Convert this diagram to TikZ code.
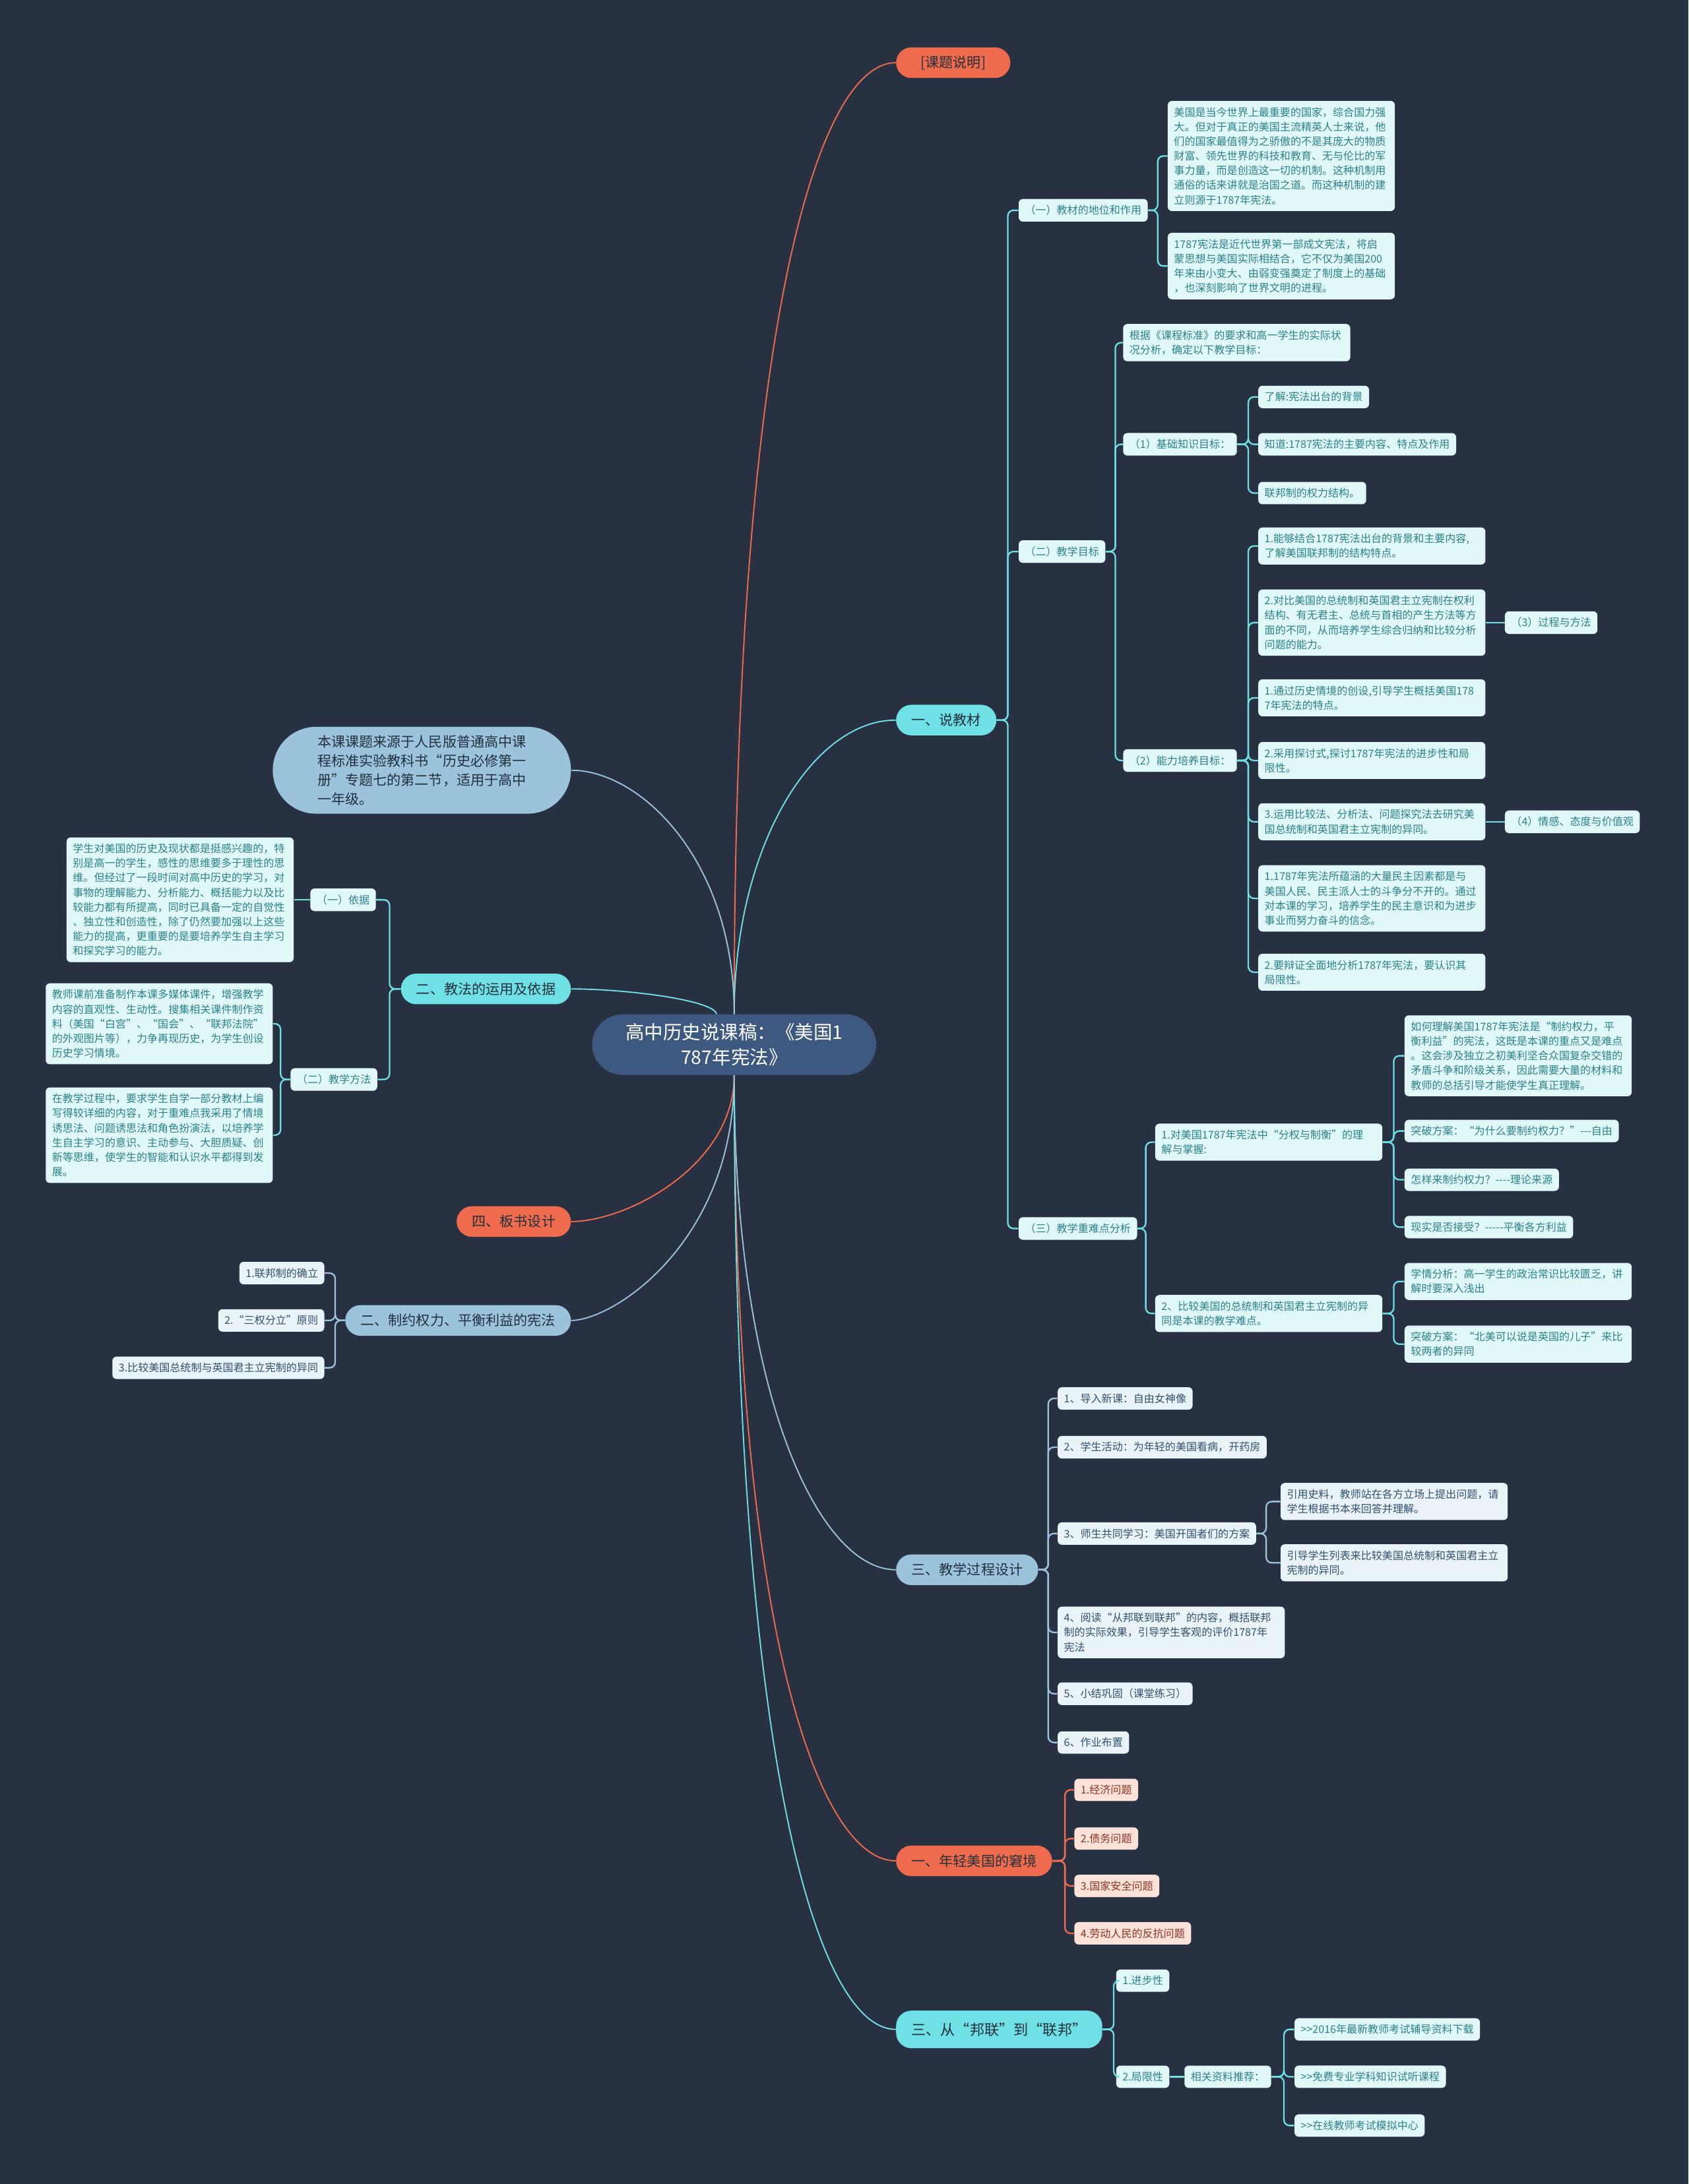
\documentclass[tikz,border=0pt]{standalone}
\usepackage{fontspec}
\setmainfont{Noto Sans CJK SC}[Ligatures=TeXOff]
\usepackage{xcolor}
\usepackage{tikz}
\usetikzlibrary{positioning, calc}

\definecolor{bgc}{HTML}{283142}
\definecolor{rootc}{HTML}{3D5980}
\definecolor{orc}{HTML}{EE6B4D}
\definecolor{cyc}{HTML}{6FE0E6}
\definecolor{lbc}{HTML}{9CC3DC}
\definecolor{cysub}{HTML}{E1F8F9}
\definecolor{lbsub}{HTML}{EAF3F8}
\definecolor{orsub}{HTML}{FDE2D9}
\definecolor{cytxt}{HTML}{2A8189}
\definecolor{lbtxt}{HTML}{33506E}
\definecolor{ortxt}{HTML}{8C3220}
\definecolor{darktxt}{HTML}{22303C}

\begin{document}
\begin{tikzpicture}[x=1pt, y=-1pt,
    rootbox/.style={fill=rootc, text=white, rounded corners=22pt, align=center,
      inner xsep=24pt, inner ysep=6.5pt, font=\fontsize{13.5pt}{18pt}\selectfont},
    mainbox/.style={rounded corners=11pt, minimum height=22pt, inner xsep=11pt,
      text=darktxt, font=\fontsize{10pt}{12pt}\selectfont},
    omain/.style={mainbox, fill=orc},
    cmain/.style={mainbox, fill=cyc},
    bmain/.style={mainbox, fill=lbc},
    subbox/.style={rounded corners=3pt, align=left, inner xsep=4.5pt, inner ysep=4.5pt,
      font=\fontsize{7.6pt}{10.5pt}\selectfont},
    wide/.style={text width=154pt},
    csub/.style={subbox, fill=cysub, text=cytxt},
    bsub/.style={subbox, fill=lbsub, text=lbtxt},
    osub/.style={subbox, fill=orsub, text=ortxt},
    cline/.style={cyc, line width=1.1pt, rounded corners=4pt},
    bline/.style={lbc, line width=1.1pt, rounded corners=4pt},
    oline/.style={orc, line width=1.1pt, rounded corners=4pt},
  ]
  \useasboundingbox (0,0) rectangle (1212,1568);
  \fill[bgc] (0,0) rectangle (1212,1568);

  \node[rootbox] (root) at (527,750) {高中历史说课稿：《美国1\\787年宪法》};

  \node[omain, anchor=west, minimum width=82pt] (intro) at (643,45) {[课题说明]};
  \node[cmain, anchor=west] (book) at (643,517) {一、说教材};
  \node[bmain, anchor=west] (proc) at (643,1127) {三、教学过程设计};
  \node[omain, anchor=west] (young) at (643,1336) {一、年轻美国的窘境};
  \node[cmain, anchor=west, minimum height=27pt, font=\fontsize{10.5pt}{12pt}\selectfont] (union) at (643,1457) {三、从“邦联”到“联邦”};
  \node[bmain, anchor=east, align=left, rounded corners=31pt, inner xsep=32pt, inner ysep=6pt,
    font=\fontsize{10pt}{13.7pt}\selectfont] (source) at (410,553)
    {本课课题来源于人民版普通高中课\\程标准实验教科书“历史必修第一\\册”专题七的第二节，适用于高中\\一年级。};
  \node[cmain, anchor=east] (method) at (410,710) {二、教法的运用及依据};
  \node[omain, anchor=east] (board) at (410,877) {四、板书设计};
  \node[bmain, anchor=east] (power) at (410,948) {二、制约权力、平衡利益的宪法};

  \draw[orc, line width=0.9pt] (root.north) to[out=90, in=180, out distance=500pt, in distance=55pt] (intro.west);
  \draw[cyc, line width=0.9pt] (root.north) to[out=90, in=180, out distance=120pt, in distance=60pt] (book.west);
  \draw[lbc, line width=0.9pt] (root.south) to[out=-90, in=180, out distance=230pt, in distance=55pt] (proc.west);
  \draw[orc, line width=0.9pt] (root.south) to[out=-90, in=180, out distance=400pt, in distance=55pt] (young.west);
  \draw[cyc, line width=0.9pt] (root.south) to[out=-90, in=180, out distance=500pt, in distance=55pt] (union.west);
  \draw[lbc, line width=0.9pt] (root.north) to[out=90, in=0, out distance=110pt, in distance=50pt] (source.east);
  \draw[cyc, line width=0.9pt] (root.120) to[out=100, in=0, out distance=10pt, in distance=40pt] (method.east);
  \draw[orc, line width=0.9pt] (root.south) to[out=-90, in=0, out distance=65pt, in distance=40pt] (board.east);
  \draw[lbc, line width=0.9pt] (root.south) to[out=-90, in=0, out distance=120pt, in distance=30pt] (power.east);

  \node[csub, anchor=west] (role) at (731,151) {（一）教材的地位和作用};
  \node[csub, anchor=west] (goal) at (731,396) {（二）教学目标};
  \node[csub, anchor=west] (key) at (731,882) {（三）教学重难点分析};
  \foreach \c in {role,goal,key}
    \draw[cline] (book.east) -- ++(8,0) |- (\c.west);

  \node[csub, wide, anchor=west] (roleA) at (838,112) {美国是当今世界上最重要的国家，综合国力强\\大。但对于真正的美国主流精英人士来说，他\\们的国家最值得为之骄傲的不是其庞大的物质\\财富、领先世界的科技和教育、无与伦比的军\\事力量，而是创造这一切的机制。这种机制用\\通俗的话来讲就是治国之道。而这种机制的建\\立则源于1787年宪法。};
  \node[csub, wide, anchor=west] (roleB) at (838,191) {1787宪法是近代世界第一部成文宪法，将启\\蒙思想与美国实际相结合，它不仅为美国200\\年来由小变大、由弱变强奠定了制度上的基础\\，也深刻影响了世界文明的进程。};
  \foreach \c in {roleA,roleB}
    \draw[cline] (role.east) -- ++(7,0) |- (\c.west);

  \node[csub, wide, anchor=west] (goalA) at (806,246) {根据《课程标准》的要求和高一学生的实际状\\况分析，确定以下教学目标：};
  \node[csub, anchor=west] (basic) at (806,319) {（1）基础知识目标：};
  \node[csub, anchor=west] (skill) at (806,546) {（2）能力培养目标：};
  \foreach \c in {goalA,basic,skill}
    \draw[cline] (goal.east) -- ++(7,0) |- (\c.west);

  \node[csub, anchor=west] (b1) at (903,285) {了解:宪法出台的背景};
  \node[csub, anchor=west] (b2) at (903,319) {知道:1787宪法的主要内容、特点及作用};
  \node[csub, anchor=west] (b3) at (903,354) {联邦制的权力结构。};
  \foreach \c in {b1,b2,b3}
    \draw[cline] (basic.east) -- ++(8,0) |- (\c.west);

  \node[csub, wide, anchor=west] (s1) at (903,392) {1.能够结合1787宪法出台的背景和主要内容,\\了解美国联邦制的结构特点。};
  \node[csub, wide, anchor=west] (s2) at (903,447) {2.对比美国的总统制和英国君主立宪制在权利\\结构、有无君主、总统与首相的产生方法等方\\面的不同，从而培养学生综合归纳和比较分析\\问题的能力。};
  \node[csub, wide, anchor=west] (s3) at (903,501) {1.通过历史情境的创设,引导学生概括美国178\\7年宪法的特点。};
  \node[csub, wide, anchor=west] (s4) at (903,546) {2.采用探讨式,探讨1787年宪法的进步性和局\\限性。};
  \node[csub, wide, anchor=west] (s5) at (903,590) {3.运用比较法、分析法、问题探究法去研究美\\国总统制和英国君主立宪制的异同。};
  \node[csub, wide, anchor=west] (s6) at (903,645) {1.1787年宪法所蕴涵的大量民主因素都是与\\美国人民、民主派人士的斗争分不开的。通过\\对本课的学习，培养学生的民主意识和为进步\\事业而努力奋斗的信念。};
  \node[csub, wide, anchor=west] (s7) at (903,698) {2.要辩证全面地分析1787年宪法，要认识其\\局限性。};
  \foreach \c in {s1,s2,s3,s4,s5,s6,s7}
    \draw[cline] (skill.east) -- ++(8,0) |- (\c.west);
  \node[csub, anchor=west] (process) at (1080,447) {（3）过程与方法};
  \node[csub, anchor=west] (value) at (1080,590) {（4）情感、态度与价值观};
  \draw[cline] (s2.east) -- (process.west);
  \draw[cline] (s5.east) -- (value.west);

  \node[csub, wide, anchor=west] (d1) at (829,820) {1.对美国1787年宪法中“分权与制衡”的理\\解与掌握:};
  \node[csub, wide, anchor=west] (d2) at (829,943) {2、比较美国的总统制和英国君主立宪制的异\\同是本课的教学难点。};
  \foreach \c in {d1,d2}
    \draw[cline] (key.east) -- ++(6,0) |- (\c.west);

  \node[csub, wide, anchor=west] (k1) at (1008,758) {如何理解美国1787年宪法是“制约权力，平\\衡利益”的宪法，这既是本课的重点又是难点\\。这会涉及独立之初美利坚合众国复杂交错的\\矛盾斗争和阶级关系，因此需要大量的材料和\\教师的总括引导才能使学生真正理解。};
  \node[csub, anchor=west] (k2) at (1008,812) {突破方案：“为什么要制约权力？”---自由};
  \node[csub, anchor=west] (k3) at (1008,847) {怎样来制约权力？----理论来源};
  \node[csub, anchor=west] (k4) at (1008,881) {现实是否接受？-----平衡各方利益};
  \foreach \c in {k1,k2,k3,k4}
    \draw[cline] (d1.east) -- ++(8,0) |- (\c.west);
  \node[csub, wide, anchor=west] (k5) at (1008,920) {学情分析：高一学生的政治常识比较匮乏，讲\\解时要深入浅出};
  \node[csub, wide, anchor=west] (k6) at (1008,965) {突破方案：“北美可以说是英国的儿子”来比\\较两者的异同};
  \foreach \c in {k5,k6}
    \draw[cline] (d2.east) -- ++(8,0) |- (\c.west);

  \node[bsub, anchor=west] (q1) at (759,1004) {1、导入新课：自由女神像};
  \node[bsub, anchor=west] (q2) at (759,1039) {2、学生活动：为年轻的美国看病，开药房};
  \node[bsub, anchor=west] (q3) at (759,1101) {3、师生共同学习：美国开国者们的方案};
  \node[bsub, wide, anchor=west] (q4) at (759,1172) {4、阅读“从邦联到联邦”的内容，概括联邦\\制的实际效果，引导学生客观的评价1787年\\宪法};
  \node[bsub, anchor=west] (q5) at (759,1216) {5、小结巩固（课堂练习）};
  \node[bsub, anchor=west] (q6) at (759,1251) {6、作业布置};
  \foreach \c in {q1,q2,q3,q4,q5,q6}
    \draw[bline] (proc.east) -- ++(7,0) |- (\c.west);
  \node[bsub, wide, anchor=west] (q3a) at (919,1078) {引用史料，教师站在各方立场上提出问题，请\\学生根据书本来回答并理解。};
  \node[bsub, wide, anchor=west] (q3b) at (919,1122) {引导学生列表来比较美国总统制和英国君主立\\宪制的异同。};
  \foreach \c in {q3a,q3b}
    \draw[bline] (q3.east) -- ++(7,0) |- (\c.west);

  \foreach \n/\y/\t in {y1/1285/1.经济问题, y2/1320/2.债务问题, y3/1354/3.国家安全问题, y4/1388/4.劳动人民的反抗问题}
    \node[osub, anchor=west] (\n) at (771,\y) {\t};
  \foreach \c in {y1,y2,y3,y4}
    \draw[oline] (young.east) -- ++(9,0) |- (\c.west);

  \node[csub, anchor=west] (progress) at (801,1422) {1.进步性};
  \node[csub, anchor=west] (limit) at (801,1491) {2.局限性};
  \foreach \c in {progress,limit}
    \draw[cline] (union.east) -- ++(8,0) |- (\c.west);
  \node[csub, anchor=west] (related) at (850,1491) {相关资料推荐：};
  \draw[cline] (limit.east) -- (related.west);
  \foreach \n/\y/\t in {r1/1457/>>2016年最新教师考试辅导资料下载, r2/1491/>>免费专业学科知识试听课程, r3/1526/>>在线教师考试模拟中心}
    \node[csub, anchor=west] (\n) at (929,\y) {\t};
  \foreach \c in {r1,r2,r3}
    \draw[cline] (related.east) -- ++(9,0) |- (\c.west);

  \node[csub, anchor=east] (basis) at (270,646) {（一）依据};
  \node[csub, anchor=east] (teach) at (271,775) {（二）教学方法};
  \foreach \c in {basis,teach}
    \draw[cline] (method.west) -- ++(-8,0) |- (\c.east);
  \node[csub, wide, anchor=east] (basisT) at (211,646) {学生对美国的历史及现状都是挺感兴趣的，特\\别是高一的学生，感性的思维要多于理性的思\\维。但经过了一段时间对高中历史的学习，对\\事物的理解能力、分析能力、概括能力以及比\\较能力都有所提高，同时已具备一定的自觉性\\、独立性和创造性，除了仍然要加强以上这些\\能力的提高，更重要的是要培养学生自主学习\\和探究学习的能力。};
  \draw[cline] (basis.west) -- (basisT.east);
  \node[csub, wide, anchor=east] (t1) at (196,735) {教师课前准备制作本课多媒体课件，增强教学\\内容的直观性、生动性。搜集相关课件制作资\\料（美国“白宫”、“国会”、“联邦法院”\\的外观图片等），力争再现历史，为学生创设\\历史学习情境。};
  \node[csub, wide, anchor=east] (t2) at (196,815) {在教学过程中，要求学生自学一部分教材上编\\写得较详细的内容，对于重难点我采用了情境\\诱思法、问题诱思法和角色扮演法，以培养学\\生自主学习的意识、主动参与、大胆质疑、创\\新等思维，使学生的智能和认识水平都得到发\\展。};
  \foreach \c in {t1,t2}
    \draw[cline] (teach.west) -- ++(-7,0) |- (\c.east);

  \node[bsub, anchor=east] (p1) at (233,914) {1.联邦制的确立};
  \node[bsub, anchor=east] (p2) at (233,948) {2.“三权分立”原则};
  \node[bsub, anchor=east] (p3) at (233,982) {3.比较美国总统制与英国君主立宪制的异同};
  \foreach \c in {p1,p2,p3}
    \draw[bline] (power.west) -- ++(-7,0) |- (\c.east);
\end{tikzpicture}
\end{document}
